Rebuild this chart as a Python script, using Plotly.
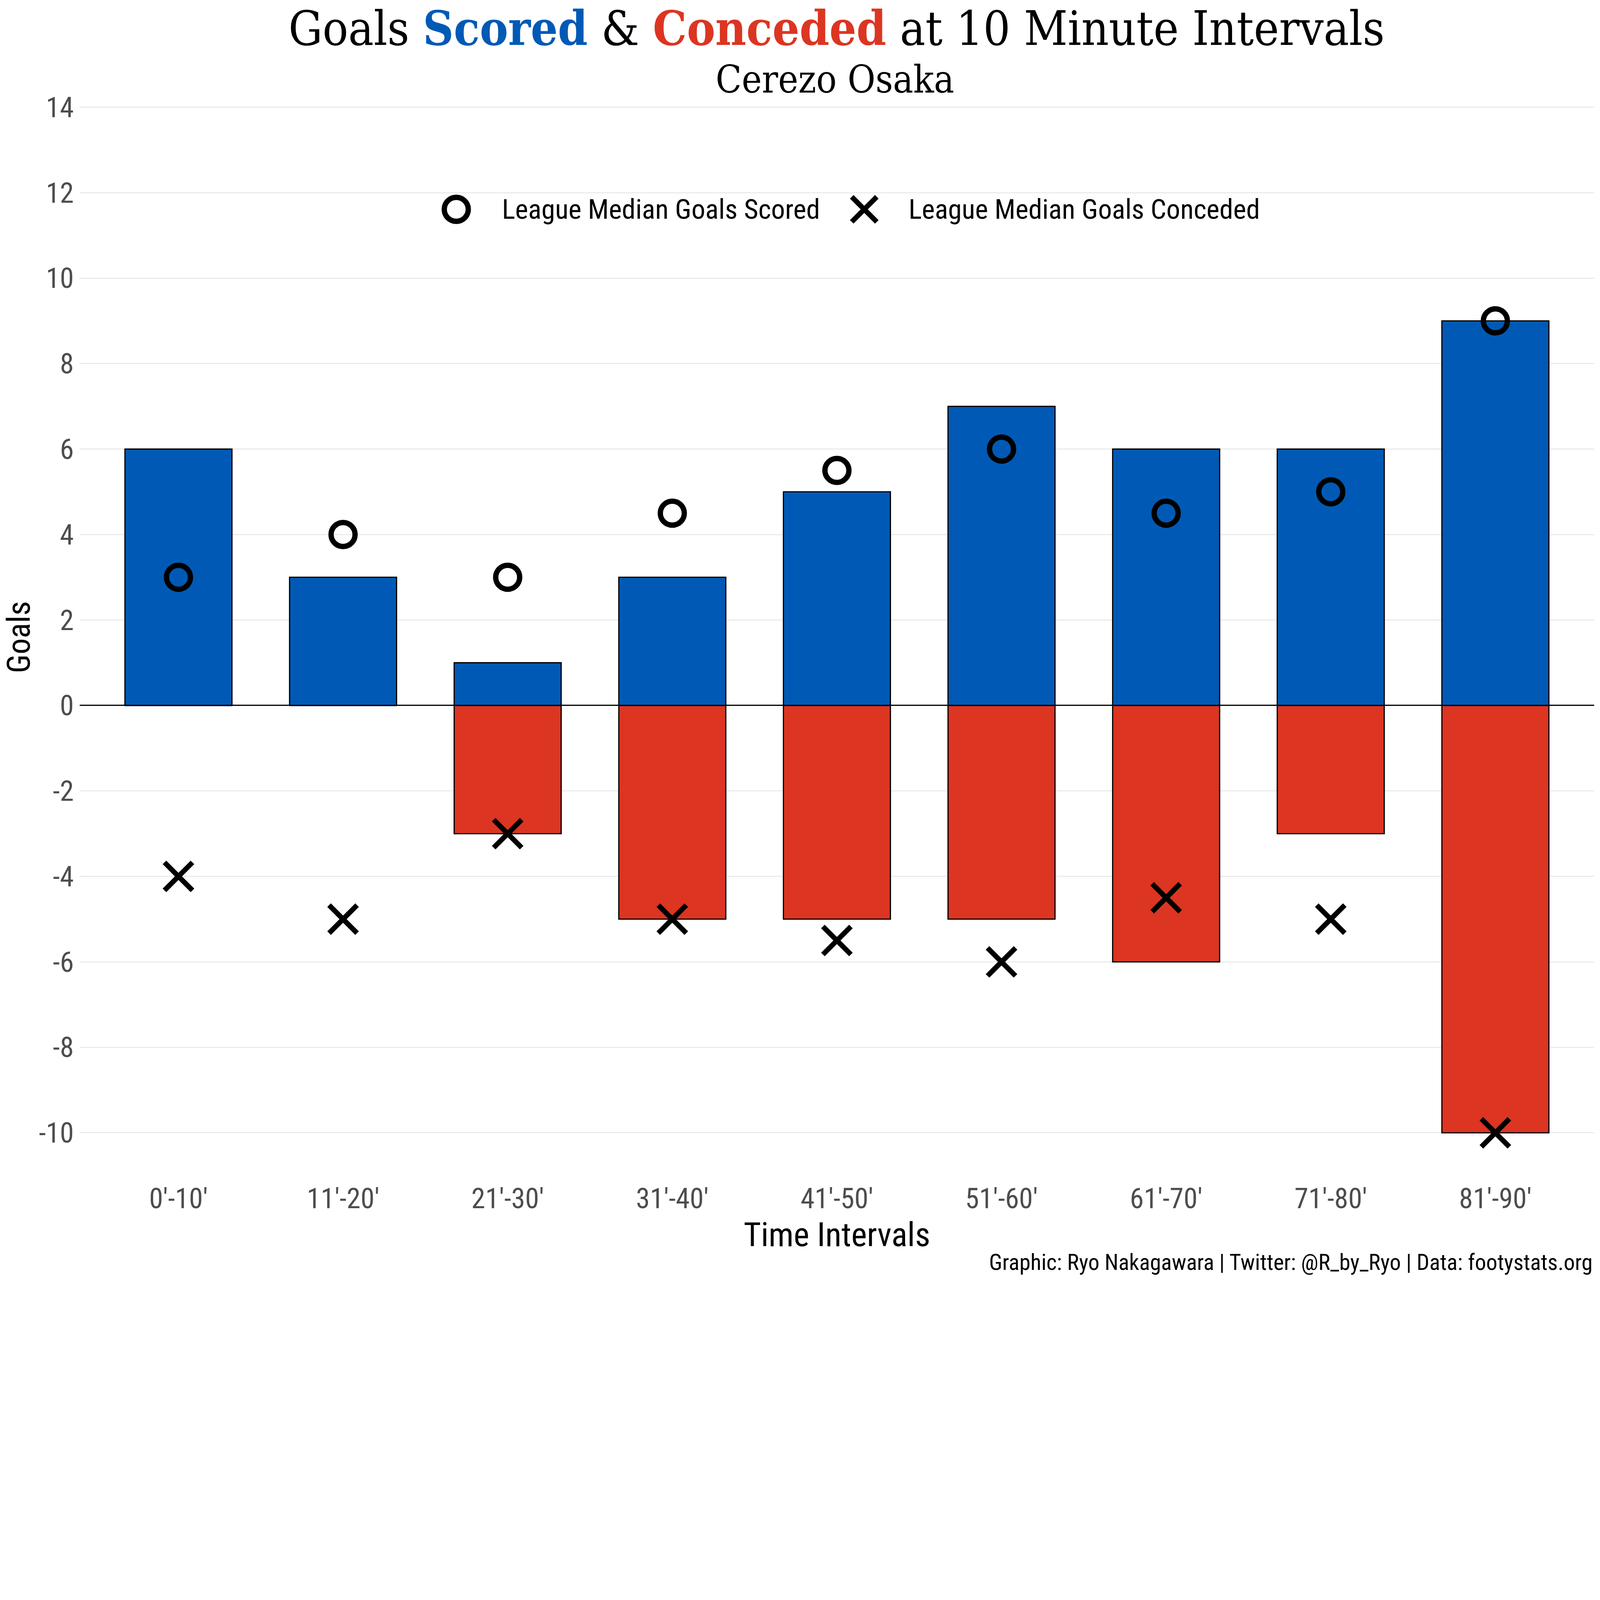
import plotly.graph_objects as go

categories = ["0'-10'", "11'-20'", "21'-30'", "31'-40'", "41'-50'", "51'-60'", "61'-70'", "71'-80'", "81'-90'"]
goals_scored = [6, 3, 1, 3, 5, 7, 6, 6, 9]
goals_conceded = [0, 0, -3, -5, -5, -5, -6, -3, -10]
median_scored = [3, 4, 3, 4.5, 5.5, 6, 4.5, 5, 9]
median_conceded = [-4, -5, -3, -5, -5.5, -6, -4.5, -5, -10]
y_ticks = list(range(-10, 15, 2))

BLUE = "#005AB5"
RED = "#DC3522"
COND = "Roboto Condensed, Liberation Sans Narrow, DejaVu Sans Condensed, Roboto, sans-serif"
SLAB = "Roboto Slab, DejaVu Serif Condensed, DejaVu Serif, serif"

# The browser viewport is 4096 px wide, so the 6000x4800 design is drawn at this scale.
S = 4096 / 6000.0
def p(v):
    return v * S

W, H = 4096, 3277
ML, MR, MT, MB = round(p(299)), round(p(22)), round(p(338)), round(p(360))
PW, PH = W - ML - MR, H - MT - MB

unit = p(4248 - 402) / 24.0
y_top = 14 + (p(402) - MT) / unit
y_bot = -10 - ((H - MB) - p(4248)) / unit

fig = go.Figure()
fig.add_trace(go.Bar(x=categories, y=goals_scored, marker=dict(color=BLUE, line=dict(color="black", width=p(4.5))),
                     name="Goals Scored", showlegend=False))
fig.add_trace(go.Bar(x=categories, y=goals_conceded, marker=dict(color=RED, line=dict(color="black", width=p(4.5))),
                     name="Goals Conceded", showlegend=False))
fig.add_trace(go.Scatter(x=categories, y=median_scored, mode="markers",
                         marker=dict(symbol="circle-open", size=p(90), color="black",
                                     line=dict(width=p(20), color="black")),
                         name="League Median Goals Scored", showlegend=False))
fig.add_trace(go.Scatter(x=categories, y=median_conceded, mode="markers",
                         marker=dict(symbol="x-thin", size=p(105), color="black",
                                     line=dict(width=p(19), color="black")),
                         name="League Median Goals Conceded", showlegend=False))

def px2paper_x(px):
    return (p(px) - ML) / PW

def px2paper_y(py):
    return (H - MB - p(py)) / PH

legend_y = px2paper_y(785)
r_c = p(45)
r_x = p(47)
shapes = [
    dict(type="circle", xref="paper", yref="paper", xsizemode="pixel", ysizemode="pixel",
         xanchor=px2paper_x(1711), yanchor=legend_y, x0=-r_c, x1=r_c, y0=-r_c, y1=r_c,
         line=dict(color="black", width=p(20)), fillcolor="rgba(0,0,0,0)"),
    dict(type="line", xref="paper", yref="paper", xsizemode="pixel", ysizemode="pixel",
         xanchor=px2paper_x(3241), yanchor=legend_y, x0=-r_x, x1=r_x, y0=-r_x, y1=r_x,
         line=dict(color="black", width=p(19))),
    dict(type="line", xref="paper", yref="paper", xsizemode="pixel", ysizemode="pixel",
         xanchor=px2paper_x(3241), yanchor=legend_y, x0=-r_x, x1=r_x, y0=r_x, y1=-r_x,
         line=dict(color="black", width=p(19))),
]

annotations = [
    dict(text="Cerezo Osaka", xref="paper", yref="paper", x=px2paper_x(3131), y=px2paper_y(298), xanchor="center",
         yanchor="middle", showarrow=False, font=dict(family=SLAB, size=p(142), color="black")),
    dict(text="League Median Goals Scored", xref="paper", yref="paper", x=px2paper_x(1880), y=legend_y,
         xanchor="left", yanchor="middle", showarrow=False, font=dict(family=COND, size=p(104), color="black")),
    dict(text="League Median Goals Conceded", xref="paper", yref="paper", x=px2paper_x(3405), y=legend_y,
         xanchor="left", yanchor="middle", showarrow=False, font=dict(family=COND, size=p(104), color="black")),
    dict(text="Graphic: Ryo Nakagawara | Twitter: @R_by_Ryo | Data: footystats.org", xref="paper", yref="paper",
         x=px2paper_x(5975), y=px2paper_y(4734), xanchor="right", yanchor="middle", showarrow=False,
         font=dict(family=COND, size=p(84), color="black")),
]

fig.update_layout(
    width=W, height=H,
    margin=dict(l=ML, r=MR, t=MT, b=MB, pad=0),
    paper_bgcolor="white", plot_bgcolor="white",
    barmode="overlay", bargap=0.35,
    title=dict(
        text=("Goals <b><span style='color:%s'>Scored</span></b> &amp; "
              "<b><span style='color:%s'>Conceded</span></b> at 10 Minute Intervals") % (BLUE, RED),
        x=px2paper_x(3137), xref="paper", xanchor="center", y=1 - p(106) / H, yref="container", yanchor="middle",
        font=dict(family=SLAB, size=p(178), color="black")),
    xaxis=dict(range=[-0.6, 8.6], showgrid=False, zeroline=False, showline=False, ticks="",
               tickfont=dict(family=COND, size=p(106), color="#4D4D4D"), ticklabelstandoff=-11,
               title=dict(text="Time Intervals", font=dict(family=COND, size=p(125), color="black"),
                          standoff=0)),
    yaxis=dict(range=[y_bot, y_top], tickvals=y_ticks, ticktext=[str(v) for v in y_ticks],
               showgrid=True, gridcolor="#EBEBEB", gridwidth=p(4),
               zeroline=True, zerolinecolor="black", zerolinewidth=p(4.5), showline=False, ticks="",
               tickfont=dict(family=COND, size=p(106), color="#4D4D4D"), ticklabelstandoff=round(p(20)),
               title=dict(text="Goals", font=dict(family=COND, size=p(120), color="black"),
                          standoff=round(p(28)))),
    shapes=shapes,
    annotations=annotations,
    showlegend=False,
)

fig.write_html("out.html", config={"displayModeBar": False},
               post_script="document.body.style.margin='0';")
